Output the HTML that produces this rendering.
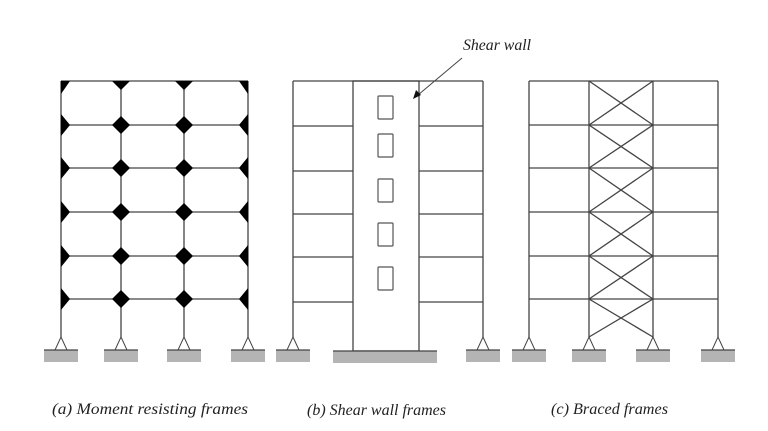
<!DOCTYPE html>
<html><head><meta charset="utf-8">
<style>
html,body{margin:0;padding:0;background:#fff;}
svg{display:block;}
text{font-family:"Liberation Serif",serif;font-style:italic;fill:#222;}
</style></head>
<body>
<svg id="fig" width="768" height="431" viewBox="0 0 768 431">
  <g id="fa"></g>
  <g id="fb"></g>
  <g id="fc"></g>
  <text x="463" y="50" font-size="16" textLength="68" lengthAdjust="spacingAndGlyphs">Shear wall</text>
  <line x1="462" y1="58" x2="418" y2="95" stroke="#444" stroke-width="1"/>
  <polygon points="413,99 416,90 421,95" fill="#111"/>
  <text x="52" y="414" font-size="16" textLength="196" lengthAdjust="spacingAndGlyphs">(a) Moment resisting frames</text>
  <text x="307" y="415" font-size="16" textLength="139" lengthAdjust="spacingAndGlyphs">(b) Shear wall frames</text>
  <text x="551" y="414" font-size="16" textLength="117" lengthAdjust="spacingAndGlyphs">(c) Braced frames</text>
</svg>
<script>
const NS="http://www.w3.org/2000/svg";
const colsA=[61,121,184,248];
const colsB=[293,353,419,483];
const colsC=[529,589,653,718];
const floorsA=[81,125,168,212,256,299];
const floorsB=[81,126,171,214,257,302];
const windowTops=[96,134,179,223,267];
const baseY=337;
function mk(g,tag,attrs){const e=document.createElementNS(NS,tag);for(const k in attrs)e.setAttribute(k,attrs[k]);g.appendChild(e);return e;}
function line(g,x1,y1,x2,y2,name){const e=mk(g,'line',{x1,y1,x2,y2,stroke:'#444','stroke-width':1.3});

return e;}
function support(g,x){
 const t=mk(g,'polygon',{points:`${x},${baseY} ${x-6},${baseY+13} ${x+6},${baseY+13}`,fill:'#fff',stroke:'#444','stroke-width':1});
 
 
 const r=mk(g,'rect',{x:x-17,y:baseY+13,width:34,height:12,fill:'#b4b4b4'});
 
 
 line(g,x-17,baseY+13,x+17,baseY+13,'ground-line');
}
function frame(g,cols,floors,skipCols){
 const L=cols[0],R=cols[cols.length-1];
 floors.forEach(y=>{line(g,L,y,R,y,'floor-beam');});
 cols.forEach(x=>{line(g,x,floors[0],x,baseY,'column');});
}
// (a)
const ga=document.getElementById('fa');
frame(ga,colsA,floorsA);
colsA.forEach(x=>support(ga,x));
const s=9;
floorsA.forEach((y,fi)=>{
 colsA.forEach((x,ci)=>{
  let pts;
  const first=ci===0,last=ci===colsA.length-1;
  if(fi===0){
   if(first) pts=`${x},${y} ${x+s},${y} ${x},${y+s+4}`;
   else if(last) pts=`${x},${y} ${x-s},${y} ${x},${y+s+4}`;
   else pts=`${x-s},${y} ${x+s},${y} ${x},${y+s}`;
  } else {
   if(first) pts=`${x},${y-s-2} ${x+s},${y} ${x},${y+s+2}`;
   else if(last) pts=`${x},${y-s-2} ${x-s},${y} ${x},${y+s+2}`;
   else pts=`${x},${y-s} ${x+s},${y} ${x},${y+s} ${x-s},${y}`;
  }
  const p=mk(ga,'polygon',{points:pts,fill:'#000'});
  
  
 });
});
// (b)
const gb=document.getElementById('fb');
const wall=mk(gb,'rect',{x:colsB[1],y:floorsB[0],width:colsB[2]-colsB[1],height:351-floorsB[0],fill:'#fff',stroke:'#444','stroke-width':1.3});


floorsB.forEach(y=>{line(gb,colsB[0],y,colsB[1],y,'floor-beam');line(gb,colsB[2],y,colsB[3],y,'floor-beam');});
line(gb,colsB[1],floorsB[0],colsB[2],floorsB[0],'roof-beam');
line(gb,colsB[0],floorsB[0],colsB[0],baseY,'column');
line(gb,colsB[3],floorsB[0],colsB[3],baseY,'column');
support(gb,colsB[0]);support(gb,colsB[3]);
const wp=mk(gb,'rect',{x:333,y:351,width:104,height:12,fill:'#b4b4b4'});


line(gb,333,351,437,351,'ground-line');
windowTops.forEach(y=>{
 const w=mk(gb,'rect',{x:378,y:y,width:15,height:23,fill:'#fff',stroke:'#555','stroke-width':1.2,rx:1});
 
 
});
// (c)
const gc=document.getElementById('fc');
frame(gc,colsC,floorsA);
colsC.forEach(x=>support(gc,x));
const lv=floorsA.concat([baseY]);
for(let i=0;i<lv.length-1;i++){
 line(gc,colsC[1],lv[i],colsC[2],lv[i+1],'brace-diagonal');
 line(gc,colsC[2],lv[i],colsC[1],lv[i+1],'brace-diagonal');
}
</script>
</body></html>
